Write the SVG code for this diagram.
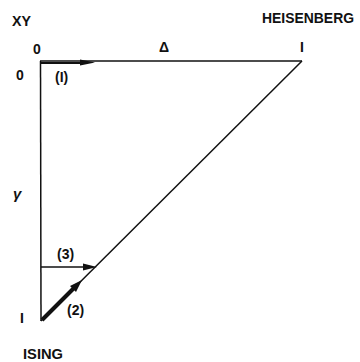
<svg xmlns="http://www.w3.org/2000/svg" width="360" height="362" viewBox="0 0 360 362">
<style>
.t{font-family:"Liberation Sans",Arial,sans-serif;font-weight:bold;font-size:15px;fill:#111}
.n{font-size:14px}
.ln{stroke:#111;stroke-width:1.5;fill:none}
.ar{stroke:#111;fill:none}
.hd{fill:#111}
</style>
<rect width="360" height="362" fill="#fff"/>
<g id="connectors">
<line class="ln" x1="40" y1="61" x2="302" y2="61"/>
<line class="ln" x1="40.5" y1="61" x2="41" y2="321"/>
<line class="ln" x1="302" y1="61" x2="41" y2="321"/>
<line class="ar" x1="41" y1="63" x2="86" y2="63" stroke-width="2.2"/>
<polygon class="hd" points="95,62.5 80,59.5 80,65.5"/>
<line class="ar" x1="41" y1="267" x2="88" y2="267" stroke-width="1.6"/>
<polygon class="hd" points="97,267 83,263.5 83,270.5"/>
<line class="ar" x1="42" y1="320" x2="75" y2="287" stroke-width="4"/>
<polygon class="hd" points="82,280 70,286 76,292"/>
</g>
<g id="label-xy"><text class="t" x="12" y="26" textLength="19" lengthAdjust="spacingAndGlyphs">XY</text></g>
<g id="label-heisenberg"><text class="t" x="262" y="23" textLength="92" lengthAdjust="spacingAndGlyphs">HEISENBERG</text></g>
<g id="label-delta0"><text class="t n" x="33" y="54">0</text></g>
<g id="label-delta"><text class="t n" x="159" y="52">Δ</text></g>
<g id="label-delta1"><text class="t n" x="300" y="52">I</text></g>
<g id="label-gamma0"><text class="t n" x="16" y="80">0</text></g>
<g id="label-gamma"><text class="t" x="13" y="199" font-size="18" font-style="italic">γ</text></g>
<g id="label-gamma1"><text class="t n" x="20" y="323">I</text></g>
<g id="label-1"><text class="t n" x="55" y="82">(I)</text></g>
<g id="label-3"><text class="t n" x="57" y="259">(3)</text></g>
<g id="label-2"><text class="t n" x="67" y="315">(2)</text></g>
<g id="label-ising"><text class="t" x="23" y="359" textLength="40" lengthAdjust="spacingAndGlyphs">ISING</text></g>
</svg>
